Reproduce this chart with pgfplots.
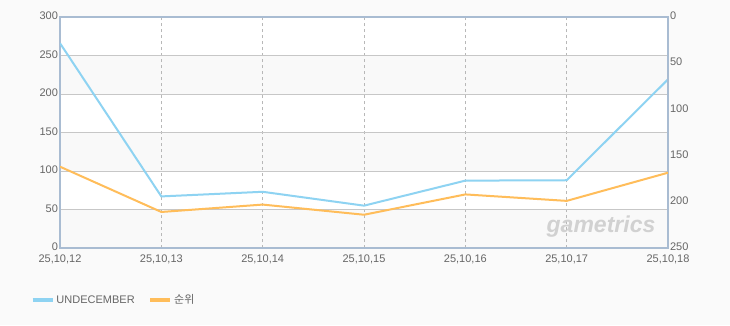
\documentclass[border=0pt]{standalone}
\usepackage{pgfplots}
\pgfplotsset{compat=1.18}
\usepackage{fontspec}
\setmainfont{Liberation Sans}
\newfontfamily\kr{Noto Sans CJK KR}
\definecolor{bluel}{HTML}{8ED3F2}
\definecolor{orl}{HTML}{FFBD5A}
\definecolor{framec}{HTML}{A9BCD2}
\definecolor{txt}{HTML}{666666}
\definecolor{bandc}{HTML}{F9F9F9}
\begin{document}
\begin{tikzpicture}[x=1pt,y=1pt]
\fill[fill=black!2] (0,0) rectangle (730,325);
\fill[white] (60,77) rectangle (668,308);
\fill[bandc] (60,77) rectangle (668,115.5);
\fill[bandc] (60,154) rectangle (668,192.5);
\fill[bandc] (60,231) rectangle (668,269.5);
\pgfplotsset{
  base/.style={at={(60pt,77pt)}, anchor=south west, scale only axis,
    width=608pt, height=231pt, xmin=0, xmax=6,
    xtick={0,...,6}, major tick length=0pt,
    tick label style={font=\fontsize{11}{13}\selectfont, text=txt},
    /pgf/number format/assume math mode=true},
}
\begin{axis}[base, ymin=0, ymax=300, ytick={0,50,...,300},
  xticklabels={{25,10,12},{25,10,13},{25,10,14},{25,10,15},{25,10,16},{25,10,17},{25,10,18}},
  axis line style={framec, line width=1.6pt},
  xmajorgrids, ymajorgrids,
  x grid style={black!28, dashed, line width=0.6pt},
  y grid style={black!22, line width=0.8pt},
  ytick pos=left, xtick pos=bottom,
  yticklabel style={xshift=1.5pt, yshift=1pt},
  xticklabel style={yshift=-3.5pt},
]
\node[anchor=base east, font=\bfseries\itshape\fontsize{23}{23}\selectfont, text=black!18] at (rel axis cs:0.985,0.065) {gametrics};
\addplot[bluel, line width=2pt] coordinates {(0,266) (1,67) (2,73) (3,55) (4,87.5) (5,88) (6,219)};
\end{axis}
\begin{axis}[base, ymin=0, ymax=250, y dir=reverse, ytick={0,50,...,250},
  axis x line=none, axis y line*=right,
  axis line style={framec, line width=1.6pt},
  yticklabel style={xshift=-1.5pt, yshift=1pt},
  legend columns=2,
  legend style={at={(rel axis cs:-0.053,-0.225)}, anchor=west, draw=none, fill=none,
    font=\fontsize{11}{13}\selectfont, text=txt,
    /tikz/every even column/.append style={column sep=12pt}},
  legend image code/.code={\draw[#1, line width=3.5pt] (0pt,0pt) -- (20pt,0pt);},
]
\addlegendimage{bluel}
\addlegendentry{UNDECEMBER}
\addplot[orl, line width=2pt] coordinates {(0,162) (1,211) (2,203) (3,214) (4,192) (5,199) (6,168.5)};
\addlegendentry{{\kr 순위}}
\end{axis}
\end{tikzpicture}
\end{document}
